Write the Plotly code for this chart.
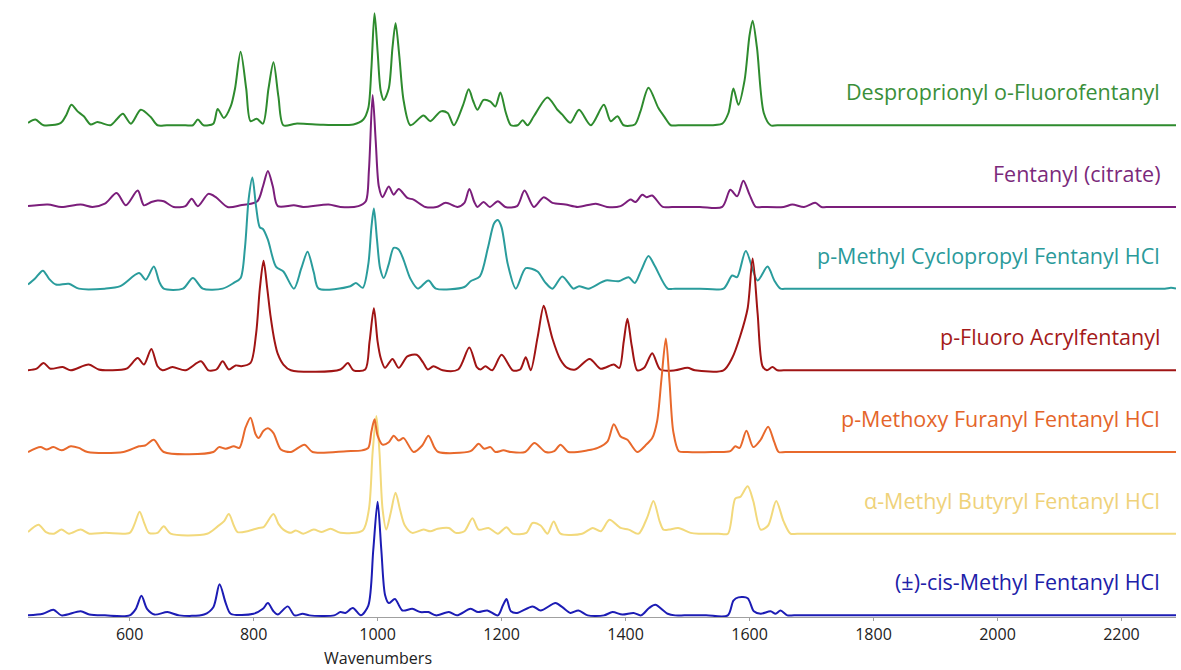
import plotly.graph_objects as go

# ---------------- data (wavenumber, relative intensity) ----------------
names = [
    "Desproprionyl o-Fluorofentanyl",
    "Fentanyl (citrate)",
    "p-Methyl Cyclopropyl Fentanyl HCl",
    "p-Fluoro Acrylfentanyl",
    "p-Methoxy Furanyl Fentanyl HCl",
    "\u03b1-Methyl Butyryl Fentanyl HCl",
    "(\u00b1)-cis-Methyl Fentanyl HCl",
]
colors = ["#2e8b2e", "#7b1e7b", "#2a9c9c", "#a01414", "#e8692c", "#f2d97c", "#1c1cb4"]
label_colors = ["#3a8f3a", "#7b2a7b", "#2a9a9a", "#a41a1a", "#e4652a", "#efd27a", "#2020a8"]

despro_x = [436, 448, 461, 489, 498, 506, 516, 526, 537, 548, 569, 580, 589, 602, 618, 634, 645, 660, 690, 702,
            710, 719, 735, 742, 752, 763, 770, 779, 788, 795, 805, 815, 824, 832, 840, 848, 868, 900, 961, 977,
            985, 990, 995, 1000, 1005, 1010, 1018, 1024, 1029, 1035, 1042, 1053, 1074, 1085, 1102, 1113, 1123,
            1138, 1147, 1154, 1161, 1171, 1182, 1190, 1198, 1207, 1215, 1226, 1234, 1242, 1252, 1274, 1290, 1298,
            1311, 1325, 1344, 1365, 1376, 1387, 1397, 1415, 1424, 1437, 1453, 1463, 1473, 1485, 1520, 1556, 1566,
            1574, 1582, 1592, 1600, 1605, 1612, 1623, 1634, 1645, 1800, 2000, 2200, 2288]
despro_y = [0.03, 0.07, 0.0, 0.03, 0.13, 0.25, 0.17, 0.11, 0.01, 0.04, 0.0, 0.08, 0.14, 0.02, 0.19, 0.10, 0.0, 0.0, 0.0, 0.0,
            0.07, 0.0, 0.02, 0.20, 0.09, 0.23, 0.45, 0.90, 0.45, 0.05, 0.08, 0.02, 0.45, 0.77, 0.35, 0.0, 0.02, 0.01, 0.01, 0.07,
            0.21, 0.70, 1.37, 0.90, 0.42, 0.31, 0.45, 0.95, 1.25, 0.85, 0.30, 0.0, 0.12, 0.05, 0.17, 0.15, 0.0,
            0.25, 0.44, 0.30, 0.19, 0.31, 0.29, 0.23, 0.40, 0.15, 0.0, 0.0, 0.06, 0.0, 0.11, 0.34, 0.19, 0.13,
            0.03, 0.19, 0.0, 0.25, 0.05, 0.11, 0.0, 0.01, 0.17, 0.46, 0.21, 0.10, 0.0, 0.0, 0.0, 0.02, 0.15,
            0.45, 0.25, 0.55, 1.10, 1.28, 0.95, 0.15, 0.0, 0.0, 0.0, 0.0, 0.0, 0.0]

fent_x = [436, 468, 490, 521, 540, 560, 579, 594, 613, 623, 635, 645, 655, 671, 690, 700, 710, 727, 739, 758,
          779, 806, 815, 823, 831, 839, 865, 880, 921, 940, 969, 981, 986, 992, 997, 1002, 1008, 1018, 1026, 1034,
          1048, 1058, 1077, 1095, 1110, 1129, 1140, 1148, 1156, 1161, 1171, 1181, 1194, 1206, 1225, 1237, 1252,
          1268, 1282, 1303, 1323, 1352, 1370, 1392, 1408, 1416, 1427, 1434, 1443, 1460, 1475, 1520, 1556, 1569,
          1580, 1590, 1600, 1610, 1620, 1655, 1669, 1688, 1706, 1716, 1730, 1900, 2100, 2288]
fent_y = [0.01, 0.03, 0.0, 0.03, 0.0, 0.04, 0.17, 0.02, 0.20, 0.02, 0.06, 0.08, 0.07, 0.0, 0.01, 0.10, 0.01, 0.16, 0.12, 0.0,
          0.02, 0.07, 0.25, 0.44, 0.25, 0.01, 0.02, 0.0, 0.03, 0.0, 0.01, 0.07, 0.45, 1.37, 0.80, 0.25, 0.12, 0.25, 0.15, 0.22,
          0.11, 0.09, 0.0, 0.0, 0.05, 0.0, 0.05, 0.22, 0.06, 0.0, 0.06, 0.0, 0.07, 0.0, 0.01, 0.20, 0.0,
          0.12, 0.05, 0.03, 0.0, 0.04, 0.0, 0.01, 0.09, 0.06, 0.15, 0.12, 0.14, 0.0, 0.0, 0.0, 0.0, 0.21,
          0.13, 0.32, 0.15, 0.0, 0.0, 0.0, 0.03, 0.0, 0.05, 0.0, 0.0, 0.0, 0.0, 0.0]

pmcf_x = [436, 447, 460, 470, 481, 502, 518, 560, 585, 615, 626, 639, 648, 655, 686, 702, 718, 750, 768, 779,
          786, 792, 798, 804, 810, 815, 823, 836, 848, 865, 877, 887, 897, 905, 956, 965, 976, 985, 990, 994,
          999, 1004, 1010, 1018, 1026, 1034, 1042, 1053, 1065, 1082, 1094, 1140, 1150, 1165, 1178, 1188, 1194,
          1200, 1210, 1223, 1239, 1258, 1270, 1282, 1298, 1316, 1325, 1340, 1368, 1389, 1405, 1415, 1425, 1437,
          1447, 1468, 1480, 1520, 1558, 1572, 1580, 1594, 1613, 1629, 1640, 1650, 1662, 1800, 2000, 2200, 2270,
          2280, 2288]
pmcf_y = [0.05, 0.12, 0.22, 0.12, 0.05, 0.06, 0.0, 0.0, 0.03, 0.19, 0.11, 0.27, 0.08, 0.0, 0.0, 0.13, 0.0, 0.0, 0.07, 0.13,
          0.50, 1.10, 1.36, 1.00, 0.75, 0.73, 0.60, 0.27, 0.21, 0.0, 0.25, 0.45, 0.20, 0.0, 0.03, 0.07, 0.01, 0.30, 0.75, 0.98,
          0.60, 0.25, 0.13, 0.30, 0.50, 0.48, 0.35, 0.12, 0.0, 0.10, 0.0, 0.02, 0.09, 0.15, 0.50, 0.80, 0.84,
          0.75, 0.30, 0.0, 0.25, 0.21, 0.08, 0.0, 0.15, 0.0, 0.03, 0.0, 0.10, 0.09, 0.14, 0.07, 0.22, 0.40,
          0.28, 0.0, 0.0, 0.0, 0.0, 0.16, 0.14, 0.46, 0.10, 0.27, 0.10, 0.0, 0.0, 0.0, 0.0, 0.0, 0.0,
          0.01, 0.0]

pfaf_x = [436, 450, 461, 472, 492, 505, 534, 550, 570, 595, 613, 623, 635, 645, 653, 669, 690, 715, 727, 740,
          750, 760, 771, 780, 795, 804, 810, 816, 822, 827, 834, 839, 848, 860, 940, 952, 961, 980, 987, 994,
          1000, 1005, 1012, 1024, 1034, 1048, 1063, 1073, 1081, 1090, 1105, 1130, 1148, 1160, 1166, 1174, 1185,
          1200, 1218, 1230, 1239, 1247, 1258, 1268, 1275, 1282, 1295, 1306, 1319, 1342, 1360, 1381, 1390, 1397,
          1403, 1410, 1419, 1430, 1443, 1456, 1480, 1500, 1512, 1558, 1572, 1585, 1597, 1605, 1613, 1621, 1628,
          1637, 1645, 1655, 1800, 2000, 2200, 2288]
pfaf_y = [0.0, 0.02, 0.09, 0.02, 0.04, 0.0, 0.07, 0.01, 0.0, 0.02, 0.15, 0.07, 0.26, 0.05, 0.0, 0.04, 0.0, 0.11, 0.0, 0.01,
          0.11, 0.01, 0.06, 0.05, 0.09, 0.45, 1.00, 1.34, 1.00, 0.68, 0.35, 0.20, 0.07, 0.0, 0.01, 0.09, 0.0, 0.01, 0.35, 0.76,
          0.35, 0.15, 0.03, 0.14, 0.03, 0.17, 0.19, 0.10, 0.01, 0.05, 0.0, 0.01, 0.28, 0.04, 0.01, 0.05, 0.0,
          0.19, 0.0, 0.01, 0.16, 0.0, 0.40, 0.79, 0.60, 0.39, 0.13, 0.03, 0.01, 0.14, 0.02, 0.07, 0.03, 0.35,
          0.63, 0.30, 0.0, 0.03, 0.21, 0.01, 0.0, 0.03, 0.0, 0.0, 0.15, 0.42, 0.76, 1.37, 0.70, 0.05, 0.0,
          0.04, 0.0, 0.0, 0.0, 0.0, 0.0, 0.0]

pmff_x = [436, 456, 466, 477, 490, 505, 518, 532, 590, 615, 625, 639, 655, 735, 744, 755, 768, 777, 787, 795,
          803, 808, 816, 823, 832, 844, 860, 882, 895, 950, 975, 985, 990, 995, 1000, 1008, 1018, 1026, 1034, 1042,
          1058, 1072, 1082, 1092, 1098, 1150, 1163, 1172, 1182, 1190, 1203, 1215, 1238, 1253, 1271, 1285, 1295,
          1308, 1339, 1355, 1371, 1381, 1392, 1403, 1419, 1432, 1443, 1451, 1458, 1465, 1471, 1477, 1486, 1500,
          1540, 1569, 1577, 1584, 1595, 1606, 1618, 1630, 1640, 1647, 1658, 1800, 2000, 2200, 2288]
pmff_y = [0.0, 0.06, 0.03, 0.06, 0.02, 0.07, 0.05, 0.0, 0.0, 0.07, 0.08, 0.15, 0.0, 0.0, 0.06, 0.04, 0.07, 0.05, 0.30, 0.42,
          0.22, 0.17, 0.26, 0.29, 0.23, 0.03, 0.0, 0.09, 0.0, 0.01, 0.02, 0.05, 0.25, 0.40, 0.20, 0.09, 0.12, 0.20, 0.14, 0.17,
          0.0, 0.08, 0.20, 0.05, 0.0, 0.01, 0.10, 0.04, 0.06, 0.0, 0.02, 0.0, 0.0, 0.11, 0.0, 0.01, 0.09,
          0.0, 0.02, 0.05, 0.13, 0.34, 0.19, 0.15, 0.0, 0.08, 0.17, 0.38, 0.90, 1.39, 0.85, 0.25, 0.01, 0.0,
          0.0, 0.01, 0.07, 0.05, 0.26, 0.06, 0.15, 0.31, 0.12, 0.0, 0.0, 0.0, 0.0, 0.0, 0.0]

amb_x = [436, 453, 465, 478, 490, 502, 521, 535, 560, 600, 608, 616, 624, 631, 645, 655, 666, 725, 742, 752,
         760, 768, 774, 790, 808, 816, 832, 840, 848, 860, 868, 880, 897, 910, 924, 940, 976, 986, 992, 998,
         1003, 1008, 1014, 1021, 1029, 1036, 1044, 1056, 1074, 1085, 1097, 1115, 1126, 1140, 1153, 1163, 1179,
         1194, 1208, 1218, 1240, 1250, 1263, 1274, 1284, 1295, 1330, 1347, 1360, 1374, 1392, 1405, 1421, 1435,
         1445, 1455, 1461, 1470, 1485, 1505, 1520, 1550, 1565, 1577, 1585, 1597, 1606, 1618, 1630, 1643, 1655,
         1666, 1677, 1800, 2000, 2200, 2288]
amb_y = [0.02, 0.11, 0.02, 0.0, 0.05, 0.0, 0.05, 0.0, 0.01, 0.01, 0.12, 0.27, 0.12, 0.01, 0.01, 0.09, 0.0, 0.0, 0.09, 0.15,
         0.24, 0.10, 0.02, 0.03, 0.07, 0.08, 0.24, 0.12, 0.05, 0.01, 0.04, 0.0, 0.05, 0.02, 0.06, 0.01, 0.04, 0.30, 1.00, 1.44,
         1.00, 0.30, 0.05, 0.25, 0.50, 0.30, 0.10, 0.01, 0.05, 0.03, 0.06, 0.07, 0.01, 0.03, 0.19, 0.05, 0.07,
         0.0, 0.08, 0.0, 0.01, 0.13, 0.10, 0.0, 0.15, 0.0, 0.0, 0.07, 0.03, 0.17, 0.07, 0.05, 0.0, 0.20,
         0.40, 0.15, 0.05, 0.05, 0.07, 0.01, 0.0, 0.0, 0.0, 0.43, 0.45, 0.58, 0.40, 0.05, 0.10, 0.40, 0.15,
         0.0, 0.0, 0.0, 0.0, 0.0, 0.0]

cmf_x = [436, 460, 477, 490, 521, 535, 560, 600, 610, 619, 628, 640, 661, 680, 720, 735, 745, 755, 763, 800,
         815, 823, 832, 839, 855, 866, 879, 890, 930, 940, 948, 960, 973, 985, 993, 1000, 1006, 1012, 1018, 1028,
         1040, 1056, 1069, 1082, 1094, 1115, 1128, 1150, 1162, 1177, 1194, 1202, 1208, 1215, 1225, 1250, 1263,
         1287, 1298, 1311, 1324, 1339, 1365, 1379, 1395, 1413, 1425, 1438, 1448, 1468, 1480, 1495, 1530, 1565,
         1574, 1582, 1597, 1607, 1618, 1634, 1642, 1650, 1661, 1672, 1800, 2000, 2200, 2288]
cmf_y = [0.0, 0.02, 0.07, 0.0, 0.05, 0.01, 0.0, 0.0, 0.08, 0.24, 0.08, 0.01, 0.04, 0.0, 0.01, 0.10, 0.38, 0.15, 0.02, 0.02,
         0.08, 0.15, 0.05, 0.01, 0.11, 0.0, 0.02, 0.0, 0.0, 0.04, 0.03, 0.09, 0.0, 0.12, 0.80, 1.39, 0.80, 0.25, 0.15, 0.20,
         0.06, 0.08, 0.04, 0.04, 0.0, 0.04, 0.0, 0.08, 0.04, 0.06, 0.0, 0.12, 0.20, 0.05, 0.03, 0.11, 0.06,
         0.15, 0.10, 0.03, 0.06, 0.0, 0.0, 0.04, 0.01, 0.03, 0.0, 0.09, 0.13, 0.02, 0.0, 0.0, 0.0, 0.0,
         0.18, 0.22, 0.21, 0.05, 0.02, 0.05, 0.02, 0.06, 0.0, 0.0, 0.0, 0.0, 0.0, 0.0]

series_x = [despro_x, fent_x, pmcf_x, pfaf_x, pmff_x, amb_x, cmf_x]
series_y = [despro_y, fent_y, pmcf_y, pfaf_y, pmff_y, amb_y, cmf_y]

tick_vals = [600, 800, 1000, 1200, 1400, 1600, 1800, 2000, 2200]
x_title = "Wavenumbers"

# ---------------- figure ----------------
FONT = "Open Sans, Noto Sans, sans-serif"
n = len(names)
step = 1.0
fig = go.Figure()
draw_order = [5, 0, 1, 2, 3, 4, 6]
for i in draw_order:
    off = (n - 1 - i) * step
    fig.add_trace(go.Scatter(
        x=series_x[i], y=[v + off for v in series_y[i]],
        mode="lines", line=dict(color=colors[i], width=2, shape="spline", smoothing=0.8),
        name=names[i], showlegend=False, hoverinfo="skip"))

for i in range(n):
    off = (n - 1 - i) * step
    fig.add_annotation(x=0.988, xref="paper", y=off + 0.41, yref="y", text=names[i],
                       showarrow=False, xanchor="right", yanchor="middle",
                       font=dict(family=FONT, size=21.5, color=label_colors[i]))

fig.add_annotation(x=1000, xref="x", y=0, yref="paper", yshift=-53, text=x_title, showarrow=False,
                   xanchor="center", yanchor="bottom", borderpad=0,
                   font=dict(family=FONT, size=16, color="#222222"))

fig.update_layout(
    width=1181, height=670,
    margin=dict(l=28, r=5, t=6, b=53),
    plot_bgcolor="white", paper_bgcolor="white",
    xaxis=dict(range=[436, 2288], tickvals=tick_vals, showgrid=False, zeroline=False,
               showline=True, linecolor="#a0a0a0", linewidth=1,
               ticks="outside", ticklen=3, tickcolor="#a0a0a0",
               tickfont=dict(family=FONT, size=16, color="#222222")),
    yaxis=dict(range=[-0.02, 7.46], visible=False, showgrid=False, zeroline=False),
)

fig.write_html("out.html", config={"displayModeBar": False},
               post_script="document.body.style.margin='0';document.body.style.overflow='hidden';")
